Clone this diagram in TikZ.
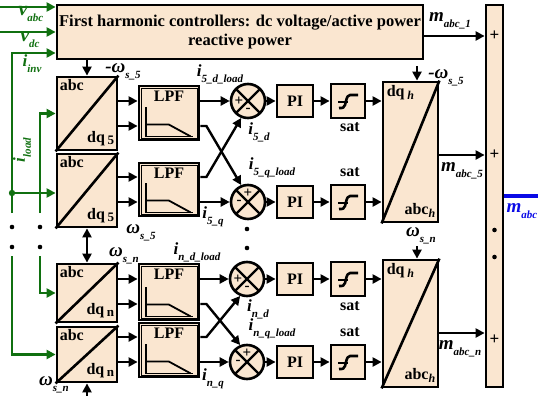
\documentclass[tikz,border=0pt]{standalone}
\usepackage{fontspec}
\setmainfont{Liberation Serif}
\usetikzlibrary{arrows.meta,calc}
\definecolor{peach}{RGB}{250,230,208}
\definecolor{dgreen}{RGB}{16,112,16}
\definecolor{mblue}{RGB}{10,10,230}
\newcommand{\lbl}[3][17]{{\fontsize{#1}{#1}\selectfont\bfseries\itshape #2\raisebox{-6pt}{\fontsize{11}{11}\selectfont #3}}}
\tikzset{
 box/.style={draw, fill=peach, line width=2.8pt, inner sep=0pt},
 arr/.style={line width=2.4pt, -{Triangle[length=9pt,width=9pt]}},
 arrboth/.style={line width=2.4pt, {Triangle[length=9pt,width=9pt]}-{Triangle[length=9pt,width=9pt]}},
 gline/.style={draw=dgreen, line width=2.8pt},
 garr/.style={gline, -{Triangle[length=9pt,width=9pt]}},
 lab/.style={inner sep=0pt},
 bf/.style={font=\fontsize{16}{16}\selectfont\bfseries},
 sgn/.style={inner sep=0pt, font=\fontsize{15}{15}\selectfont\bfseries},
 conv/.style={box, minimum width=60pt,
   label={[anchor=north west, bf, inner sep=0pt, xshift=4pt, yshift=-4pt]north west:abc}},
 lpfbox/.style={box, minimum width=60pt,
   label={[anchor=north, bf, inner sep=0pt, yshift=-6pt]north:LPF}},
 pibox/.style={box, minimum width=36pt, minimum height=32pt, bf},
 satbox/.style={box, minimum width=34pt, minimum height=34pt},
 sumnode/.style={circle, draw, fill=peach, line width=2.6pt, minimum size=34pt, inner sep=0pt,
   path picture={\draw[line width=2.2pt] (path picture bounding box.north west) -- (path picture bounding box.south east)
     (path picture bounding box.north east) -- (path picture bounding box.south west);}},
 invbox/.style={box, minimum width=55pt,
   label={[anchor=north west, bf, inner sep=0pt, xshift=5pt, yshift=-5pt]north west:{dq\,\raisebox{-3pt}{\fontsize{12}{12}\selectfont\itshape h}}},
   label={[anchor=south east, bf, inner sep=0pt, xshift=-4pt, yshift=6pt]south east:{abc\raisebox{-3pt}{\fontsize{12}{12}\selectfont\itshape h}}}},
}
\begin{document}
\begin{tikzpicture}[x=1pt,y=-1pt]
\useasboundingbox (0,0) rectangle (538,396);

% top box
\node[box, minimum width=366pt, minimum height=54pt, align=center,
  font=\fontsize{16.5}{19}\selectfont\bfseries] (TB) at (240,32)
  {First harmonic controllers: dc voltage/active power\\reactive power};

% conversion boxes
\node[conv, minimum height=73pt,
  label={[anchor=south east, bf, inner sep=0pt, xshift=-4pt, yshift=5pt]south east:{dq\,\raisebox{-2pt}{\fontsize{13}{13}\selectfont 5}}}] (B1) at (87,113.5) {};
\node[conv, minimum height=73pt,
  label={[anchor=south east, bf, inner sep=0pt, xshift=-4pt, yshift=5pt]south east:{dq\,\raisebox{-2pt}{\fontsize{13}{13}\selectfont 5}}}] (B2) at (87,190.5) {};
\node[conv, minimum height=58pt,
  label={[anchor=south east, bf, inner sep=0pt, xshift=-4pt, yshift=5pt]south east:{dq\,\raisebox{-2pt}{\fontsize{13}{13}\selectfont n}}}] (B3) at (87,293) {};
\node[conv, minimum height=55pt,
  label={[anchor=south east, bf, inner sep=0pt, xshift=-4pt, yshift=5pt]south east:{dq\,\raisebox{-2pt}{\fontsize{13}{13}\selectfont n}}}] (B4) at (87,354.5) {};
\foreach \b in {B1,B2,B3,B4}{\draw[line width=2.6pt] (\b.south west) -- (\b.north east);}

% LPF boxes
\node[lpfbox, minimum height=54pt] (L1) at (169,113) {};
\node[lpfbox, minimum height=53pt] (L2) at (169,189.5) {};
\node[lpfbox, minimum height=56pt] (L3) at (169,292) {};
\node[lpfbox, minimum height=54pt] (L4) at (169,350) {};
\foreach \l in {L1,L2,L3,L4}{
  \draw[line width=0.8pt] ($(\l.south west)+(3.5,-3.5)$) rectangle ($(\l.north east)+(-3.5,3.5)$);
  \begin{scope}[shift={(\l.south west)}]
    \draw[line width=1.8pt] (8,-34) -- (8,-5) -- (55,-5);
    \draw[line width=1.8pt] (8,-17) -- (31,-17) -- (53,-5);
  \end{scope}
}

% sums
\node[sumnode] (S1) at (248,101) {};
\node[sumnode] (S2) at (248,202) {};
\node[sumnode] (S3) at (247,279) {};
\node[sumnode] (S4) at (247,362) {};
\foreach \s in {S1,S3}{
  \node[sgn] at ($(\s)+(-9,0)$) {+};
  \node[sgn] at ($(\s)+(0,9)$) {-};
}
\foreach \s in {S2,S4}{
  \node[sgn] at ($(\s)+(0,-9)$) {+};
  \node[sgn] at ($(\s)+(-9,0)$) {-};
}

% PI and sat
\node[pibox] (P1) at (295,101) {PI};
\node[pibox] (P2) at (295,202) {PI};
\node[pibox] (P3) at (295,279) {PI};
\node[pibox] (P4) at (295,362) {PI};
\node[satbox] (T1) at (348,101) {};
\node[satbox] (T2) at (348,202) {};
\node[satbox] (T3) at (348,279) {};
\node[satbox] (T4) at (348,362) {};
\foreach \t in {T1,T2,T3,T4}{
  \begin{scope}[shift={(\t.center)}]
    \draw[line width=2.6pt, line join=round] (10,-6) -- (2,-6) .. controls (0,-6) and (-1,-4) .. (-2,0) -- (-3,4) .. controls (-4,7) and (-5,7) .. (-9,7);
    \draw[line width=2.4pt] (-10,1) -- (0,1);
  \end{scope}
}
\node[bf, inner sep=0pt] (sat1) at (350,127) {sat};
\node[bf, inner sep=0pt] (sat2) at (350,172) {sat};
\node[bf, inner sep=0pt] (sat3) at (350,306) {sat};
\node[bf, inner sep=0pt] (sat4) at (350,332) {sat};

% inverse transforms and bus
\node[invbox, minimum height=140pt] (R1) at (410.5,152) {};
\node[invbox, minimum height=127pt] (R2) at (410.5,323.5) {};
\foreach \r in {R1,R2}{\draw[line width=2.6pt] (\r.south west) -- (\r.north east);}
\node[box, minimum width=17pt, minimum height=382pt] (BUS) at (494.5,196) {};
\node[sgn, font=\fontsize{17}{17}\selectfont\bfseries] (p1) at (494.5,36) {+};
\node[sgn, font=\fontsize{17}{17}\selectfont\bfseries] (p2) at (494.5,155) {+};
\node[sgn, font=\fontsize{17}{17}\selectfont\bfseries] (p3) at (494.5,340) {+};
\fill (494.5,230) circle (2.3);
\fill (494.5,257) circle (2.3);

% rows
\coordinate (r1a) at (0,101); \coordinate (r1b) at (0,126);
\coordinate (r2a) at (0,177); \coordinate (r2b) at (0,202);
\coordinate (r3a) at (0,279); \coordinate (r3b) at (0,304);
\coordinate (r4a) at (0,337); \coordinate (r4b) at (0,362);

% B -> LPF
\foreach \i/\b/\l in {1/B1/L1,2/B2/L2,3/B3/L3,4/B4/L4}{
  \draw[arr] (\b.east |- r\i a) -- (\l.west |- r\i a);
  \draw[arr] (\b.east |- r\i b) -- (\l.west |- r\i b);
}
% LPF -> sums
\draw[arr] (L1.east |- r1a) -- (S1);
\draw[arr] (L1.east |- r1b) -- ++(6,0) -- (S2.112);
\draw[arr] (L2.east |- r2a) -- ++(6,0) -- (S1.248);
\draw[arr] (L2.east |- r2b) -- (S2);
\draw[arr] (L3.east |- r3a) -- (S3);
\draw[arr] (L3.east |- r3b) -- ++(6,0) -- (S4.112);
\draw[arr] (L4.east |- r4a) -- ++(6,0) -- (S3.248);
\draw[arr] (L4.east |- r4b) -- (S4);
% sums -> PI -> sat -> R
\foreach \s/\p/\t/\r in {S1/P1/T1/R1,S2/P2/T2/R1,S3/P3/T3/R2,S4/P4/T4/R2}{
  \draw[arr] (\s) -- (\p);
  \draw[arr] (\p) -- (\t);
  \draw[arr] (\t) -- (\t -| \r.west);
}
\fill (247,229) circle (2.3);
\fill (247,248) circle (2.3);

% frequency inputs
\draw[arr] (B1.north |- TB.south) -- (B1.north);
\draw[arrboth] (B2.south) -- (B3.north);
\coordinate (wb) at (87,396);
\draw[arr] (wb) -- (B4.south);
\coordinate (w1) at (417,66);
\draw[arr] (w1) -- (w1 |- R1.north);
\coordinate (w2) at (417,246);
\draw[arr] (w2) -- (w2 |- R2.north);

% outputs to bus
\coordinate (m1) at (0,36); \coordinate (m5) at (0,155); \coordinate (mn) at (0,333);
\draw[arr] (TB.east |- m1) -- (BUS.west |- m1);
\draw[arr] (R1.east |- m5) -- (BUS.west |- m5);
\draw[arr] (R2.east |- mn) -- (BUS.west |- mn);
\coordinate (mo) at (538,196);
\draw[mblue, line width=4pt] (BUS.east) -- (mo);

% green inputs
\coordinate (vabc) at (0,7);
\coordinate (vdc) at (0,32);
\coordinate (inv) at (12,53);
\coordinate (gA) at (12,213);
\coordinate (gB) at (12,256);
\coordinate (j1) at (12,193);
\coordinate (lA) at (40,213);
\coordinate (lB) at (40,256);
\draw[garr] (vabc) -- (TB.west |- vabc);
\draw[garr] (vdc) -- (TB.west |- vdc);
\draw[garr] (gA) -- (inv) -- (TB.west |- inv);
\draw[garr] (j1) -- (B2.west |- j1);
\fill[dgreen] (j1) circle (3.2);
\draw[garr] (lA) |- (B1.west);
\draw[garr] (lB) |- (B3.west);
\draw[garr] (gB) |- (B4.west);
\foreach \x in {12,40}{\fill (\x,227) circle (2.3); \fill (\x,247) circle (2.3);}

% labels
\node[lab, text=dgreen] (lvabc) at (31,14) {\lbl[20]{v}{abc}};
\node[lab, text=dgreen] (lvdc) at (30,40) {\lbl[20]{v}{dc}};
\node[lab, text=dgreen] (linv) at (32,64) {\lbl{i}{inv}};
\node[lab, text=dgreen, rotate=90] (lload) at (22,150) {\lbl{i}{load}};
\node[lab] (lw1) at (123,72) {\lbl[19]{-ω}{s\_5}};
\node[lab] (lw2) at (141,233) {\lbl[19]{ω}{s\_5}};
\node[lab] (lw3) at (124,256) {\lbl[19]{ω}{s\_n}};
\node[lab] (lw4) at (54,385) {\lbl[19]{ω}{s\_n}};
\node[lab] (li1) at (220,74) {\lbl{i}{5\_d\_load}};
\node[lab] (li2) at (259,132) {\lbl{i}{5\_d}};
\node[lab] (li3) at (272,168) {\lbl{i}{5\_q\_load}};
\node[lab] (li4) at (213,217) {\lbl{i}{5\_q}};
\node[lab] (li5) at (197,252) {\lbl{i}{n\_d\_load}};
\node[lab] (li6) at (258,309) {\lbl{i}{n\_d}};
\node[lab] (li7) at (272,329) {\lbl{i}{n\_q\_load}};
\node[lab] (li8) at (213,379) {\lbl{i}{n\_q}};
\node[lab] (lm1) at (450,21) {\lbl[19]{m}{abc\_1}};
\node[lab] (lw5) at (446,78) {\lbl[19]{-ω}{s\_5}};
\node[lab] (lm5) at (462,171) {\lbl[19]{m}{abc\_5}};
\node[lab] (lw6) at (421,236) {\lbl[19]{ω}{s\_n}};
\node[lab] (lmn) at (460,349) {\lbl[19]{m}{abc\_n}};
\node[lab, text=mblue] (lm) at (522,211) {\lbl[19]{m}{abc}};
\end{tikzpicture}
\end{document}
